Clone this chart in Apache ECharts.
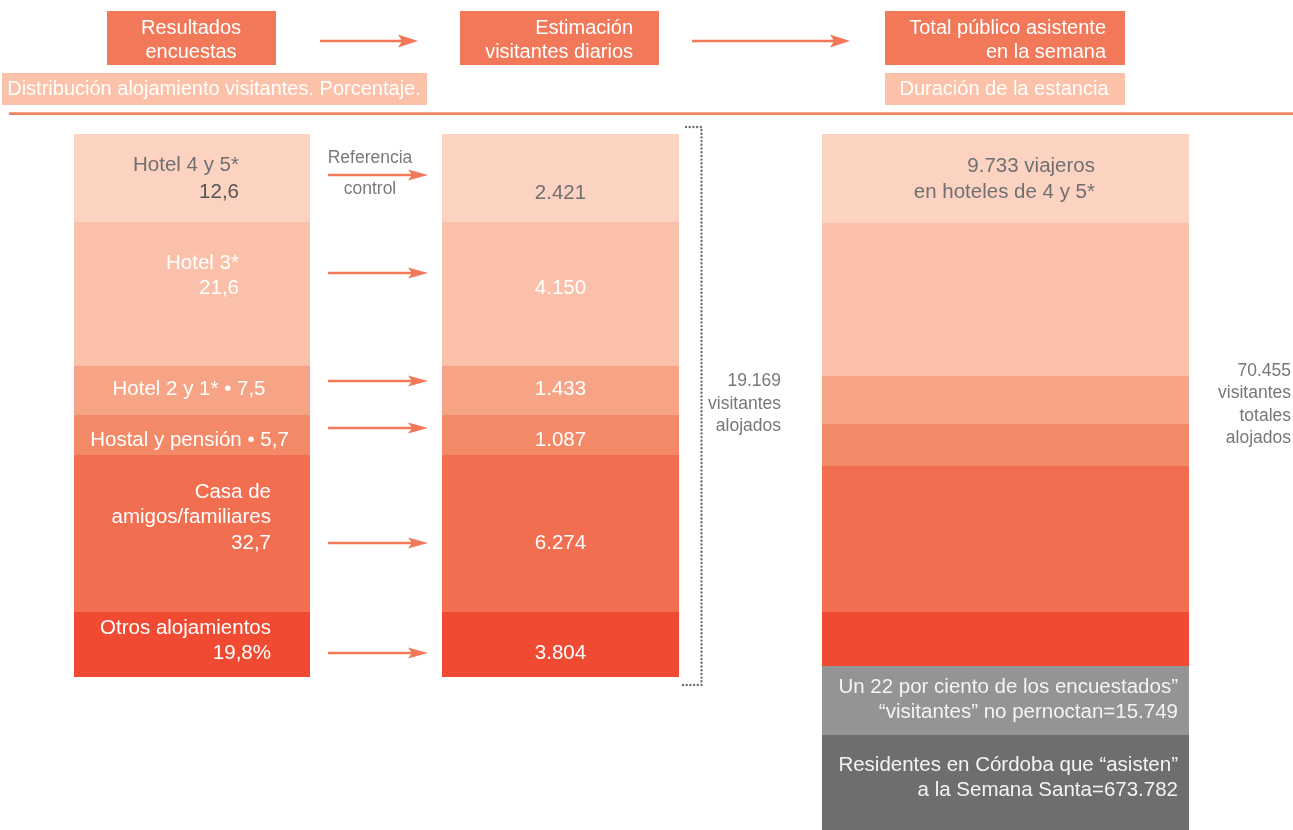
<!DOCTYPE html>
<html><head><meta charset="utf-8">
<script src="https://cdn.jsdelivr.net/npm/echarts@6/dist/echarts.min.js"></script>
<style>html,body{margin:0;padding:0;background:#fff}#c{width:1293px;height:830px}</style>
</head><body><div id="c"></div>
<script>
// ---------- data ----------
const categories = ['Hotel 4 y 5*', 'Hotel 3*', 'Hotel 2 y 1*', 'Hostal y pensión', 'Casa de\namigos/familiares', 'Otros alojamientos'];
const surveyPercent = [12.6, 21.6, 7.5, 5.7, 32.7, 19.8];
const dailyVisitors = [2421, 4150, 1433, 1087, 6274, 3804];
const totalLodgedVisitors = 70455;
const hotel45Travellers = 9733;
const nonOvernightPct = 22;
const nonOvernightVisitors = 15749;
const cordobaResidents = 673782;
// extent of each band as drawn on the reference's vertical scale (bands are not proportional)
const leftBandExtent = [88, 144, 49, 40, 157, 65];
const rightBandExtent = [89, 153, 48, 42, 146, 54];
const rightGreyExtent = [69, 95];
const headerTitles = ['Resultados\nencuestas', 'Estimación\nvisitantes diarios', 'Total público asistente\nen la semana'];
const headerSubtitles = ['Distribución alojamiento visitantes. Porcentaje.', 'Duración de la estancia'];

// ---------- styling ----------
const FONT = '"Helvetica Neue", "Liberation Sans", Arial, sans-serif';
const bandColors = ['#FCD3C1', '#FBC0A9', '#F7A486', '#F48968', '#F26E50', '#F04B32'];
const greyColors = ['#949497', '#6D6E70'];
const ORANGE = '#F2785A';
const TXT_GREY = '#707072';

const fmtInt = n => String(n).replace(/\B(?=(\d{3})+(?!\d))/g, '.');
const fmtPct = v => String(v).replace('.', ',');

// label layout for the left column: [relX, relY, align, lineHeight]
const leftLayout = [[165, 44.5, 'right', 27], [165, 53.5, 'right', 25], [115, 23, 'center', 25], [115.5, 25, 'center', 25], [197, 62.5, 'right', 25.5], [197, 28.5, 'right', 25]];
const midLayoutY = [59.5, 66, 23, 25, 88, 41];

function leftText(i) {
  const name = categories[i];
  const p = fmtPct(surveyPercent[i]);
  if (i === 0) return '{a|' + name + '}\n{b|' + p + '}';
  if (i === 2 || i === 3) return name + ' • ' + p;
  if (i === 5) return name + '\n' + p + '%';
  return name + '\n' + p;
}

const series = [];
categories.forEach((c, i) => {
  const L = leftLayout[i];
  series.push({
    type: 'bar', name: c, xAxisIndex: 0, yAxisIndex: 0, stack: 'left', barWidth: '100%', silent: true,
    data: [leftBandExtent[i]], itemStyle: { color: bandColors[i] },
    label: {
      show: true, position: [L[0], L[1]], align: L[2], verticalAlign: 'middle',
      formatter: leftText(i), color: '#fff', fontFamily: FONT, fontSize: 20.5, lineHeight: L[3],
      rich: {
        a: { color: TXT_GREY, fontFamily: FONT, fontSize: 20.5, lineHeight: 27, align: 'right' },
        b: { color: '#555557', fontFamily: FONT, fontSize: 20.5, lineHeight: 27, align: 'right' }
      }
    }
  });
  series.push({
    type: 'bar', name: c, xAxisIndex: 1, yAxisIndex: 1, stack: 'mid', barWidth: '100%', silent: true,
    data: [leftBandExtent[i]], itemStyle: { color: bandColors[i] },
    label: {
      show: true, position: [118.5, midLayoutY[i]], align: 'center', verticalAlign: 'middle',
      formatter: fmtInt(dailyVisitors[i]), color: i === 0 ? TXT_GREY : '#fff', fontFamily: FONT, fontSize: 20.5
    }
  });
});
categories.forEach((c, i) => {
  series.push({
    type: 'bar', name: c, xAxisIndex: 2, yAxisIndex: 2, stack: 'right', barWidth: '100%', silent: true,
    data: [rightBandExtent[i]], itemStyle: { color: bandColors[i] },
    label: i === 0 ? {
      show: true, position: [273, 45], align: 'right', verticalAlign: 'middle',
      formatter: fmtInt(hotel45Travellers) + ' viajeros\nen hoteles de 4 y 5*',
      color: TXT_GREY, fontFamily: FONT, fontSize: 20.5, lineHeight: 26
    } : { show: false }
  });
});
const greyTexts = [
  'Un ' + nonOvernightPct + ' por ciento de los encuestados”\n“visitantes” no pernoctan=' + fmtInt(nonOvernightVisitors),
  'Residentes en Córdoba que “asisten”\na la Semana Santa=' + fmtInt(cordobaResidents)
];
const greyLabelY = [33.5, 42.5];
rightGreyExtent.forEach((v, i) => {
  series.push({
    type: 'bar', xAxisIndex: 2, yAxisIndex: 2, stack: 'right', barWidth: '100%', silent: true,
    data: [v], itemStyle: { color: greyColors[i] },
    label: {
      show: true, position: [356, greyLabelY[i]], align: 'right', verticalAlign: 'middle',
      formatter: greyTexts[i], color: '#F4F4F4', fontFamily: FONT, fontSize: 20.5, lineHeight: 25
    }
  });
});

const gridDefs = [{ left: 74, width: 236 }, { left: 442, width: 237 }, { left: 822, width: 367 }];
const grids = gridDefs.map(g => ({ left: g.left, width: g.width, top: 134, height: 696, outerBoundsMode: 'none', containLabel: false }));
const xAxes = gridDefs.map((g, i) => ({ type: 'category', gridIndex: i, data: ['col'], show: false, boundaryGap: true }));
const yAxes = gridDefs.map((g, i) => ({ type: 'value', gridIndex: i, inverse: true, min: 0, max: 696, show: false }));

// ---------- decorations ----------
function arrow(x1, x2, y, hh) {
  return {
    type: 'group', silent: true, children: [
      { type: 'line', shape: { x1: x1, y1: y, x2: x2 - 15, y2: y }, style: { stroke: ORANGE, lineWidth: 2.6 } },
      { type: 'polygon', shape: { points: [[x2, y], [x2 - 20, y - hh], [x2 - 16, y], [x2 - 20, y + hh]] }, style: { fill: ORANGE } }
    ]
  };
}
const graphics = [];
// header boxes
[[107, 11, 169, 54, 191, 'center'], [460, 11, 199, 54, 633, 'right'], [885, 11, 240, 54, 1106, 'right']].forEach((b, i) => {
  graphics.push({ type: 'rect', shape: { x: b[0], y: b[1], width: b[2], height: b[3] }, style: { fill: ORANGE }, silent: true });
  graphics.push({ type: 'text', x: b[4], y: 40, style: { text: headerTitles[i], fill: '#fff', font: '20px ' + FONT, align: b[5], verticalAlign: 'middle', lineHeight: 24 }, silent: true });
});
[[2, 73, 425, 32, 214], [885, 73, 240, 32, 1004]].forEach((b, i) => {
  graphics.push({ type: 'rect', shape: { x: b[0], y: b[1], width: b[2], height: b[3] }, style: { fill: '#FBC1A9' }, silent: true });
  graphics.push({ type: 'text', x: b[4], y: 89.5, style: { text: headerSubtitles[i], fill: '#fff', font: '20px ' + FONT, align: 'center', verticalAlign: 'middle' }, silent: true });
});
graphics.push({ type: 'line', shape: { x1: 9, y1: 113.7, x2: 1293, y2: 113.7 }, style: { stroke: '#F38462', lineWidth: 2.7 }, silent: true });
graphics.push(arrow(320, 418, 41, 6.5));
graphics.push(arrow(692, 850, 41, 6.5));
[175, 273, 381, 428, 543, 653].forEach(y => graphics.push(arrow(328, 428, y, 5.5)));
graphics.push({ type: 'text', x: 370, y: 173.5, style: { text: 'Referencia\n\ncontrol', fill: '#7A7A7C', font: '17.5px ' + FONT, align: 'center', verticalAlign: 'middle', lineHeight: 15.5 }, silent: true });
// dotted bracket
graphics.push({ type: 'polyline', shape: { points: [[686, 127], [701.5, 127], [701.5, 685], [681, 685]] }, style: { stroke: '#6E6E71', lineWidth: 2.4, lineDash: [0, 3.7], lineCap: 'round', fill: null }, silent: true });
const lodgedSum = dailyVisitors.reduce((a, b) => a + b, 0);
graphics.push({ type: 'text', x: 781, y: 404, style: { text: fmtInt(lodgedSum) + '\nvisitantes\nalojados', fill: '#77777A', font: '17.5px ' + FONT, align: 'right', verticalAlign: 'middle', lineHeight: 22.5 }, silent: true });
graphics.push({ type: 'text', x: 1291, y: 404.5, style: { text: fmtInt(totalLodgedVisitors) + '\nvisitantes\ntotales\nalojados', fill: '#77777A', font: '17.5px ' + FONT, align: 'right', verticalAlign: 'middle', lineHeight: 22.4 }, silent: true });

const chart = echarts.init(document.getElementById('c'), null, { renderer: 'canvas' });
chart.setOption({
  animation: false,
  backgroundColor: '#fff',
  grid: grids, xAxis: xAxes, yAxis: yAxes,
  series: series,
  graphic: graphics
});
</script></body></html>
